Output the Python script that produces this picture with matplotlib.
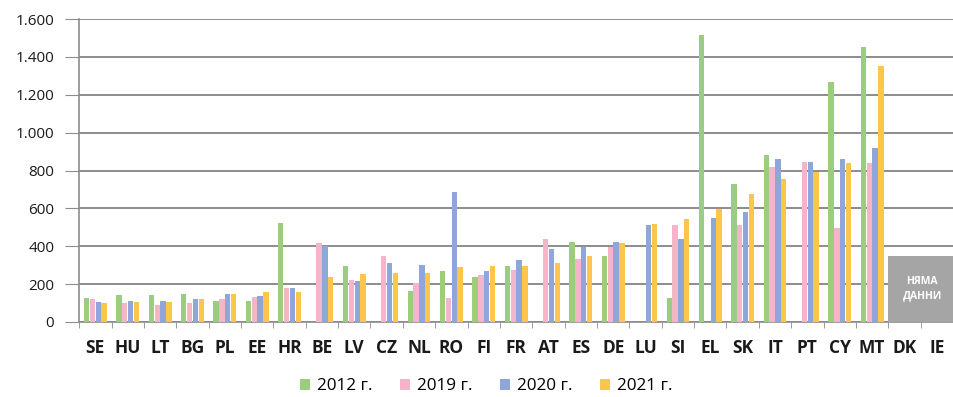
import numpy as np
import matplotlib
matplotlib.use("Agg")
import matplotlib.pyplot as plt

plt.rcParams['font.family'] = ['Open Sans', 'DejaVu Sans']

countries = ['SE', 'HU', 'LT', 'BG', 'PL', 'EE', 'HR', 'BE', 'LV', 'CZ', 'NL', 'RO', 'FI', 'FR',
             'AT', 'ES', 'DE', 'LU', 'SI', 'EL', 'SK', 'IT', 'PT', 'CY', 'MT', 'DK', 'IE']

# values, nan = no bar
nan = np.nan
v2012 = [125, 141, 143, 148, 113, 109, 521, nan, 298, nan, 161, 270, 240, 297,
         nan, 424, 350, nan, 125, 1517, 730, 883, nan, 1266, 1452, nan, nan]
v2019 = [121, 102, 92, 100, 123, 134, 181, 415, 222, 350, 208, 129, 249, 275,
         438, 334, 396, nan, 512, nan, 514, 816, 844, 494, 840, nan, nan]
v2020 = [104, 109, 113, 123, 148, 139, 178, 399, 215, 314, 302, 689, 270, 328,
         383, 397, 424, 512, 438, 547, 583, 861, 844, 861, 919, nan, nan]
v2021 = [99, 106, 106, 123, 148, 158, 160, 235, 252, 258, 258, 290, 293, 297,
         310, 346, 419, 519, 544, 595, 678, 754, 791, 840, 1354, nan, nan]

series = [('2012 г.', v2012, '#9ccc7e'),
          ('2019 г.', v2019, '#f4b4c9'),
          ('2020 г.', v2020, '#8ea7d8'),
          ('2021 г.', v2021, '#fcc748')]

fig = plt.figure(figsize=(9.54, 3.97), dpi=100)
ax = fig.add_axes([0.083, 0.189, 0.916, 0.763])

x = np.arange(len(countries))
w = 0.18
for i, (name, vals, col) in enumerate(series):
    ax.bar(x + (i - 1.5) * w, vals, width=w * 0.92, color=col, label=name, zorder=3)

# grey "no data" box over DK and IE
ax.bar(25.55, 350, width=2.1, color='#a5a5a5', zorder=4, clip_on=False)
ax.text(25.55, 175, 'НЯМА\nДАННИ', ha='center', va='center', color='white',
        fontsize=7.5, fontweight='bold', zorder=5, linespacing=1.4)

ax.set_xlim(-0.5, len(countries) - 0.5)
ax.set_ylim(0, 1600)
ax.set_yticks(range(0, 1601, 200))
ax.set_yticklabels([f'{t:,}'.replace(',', '.') for t in range(0, 1601, 200)], fontsize=11)
ax.yaxis.grid(True, color='#8c8c8c', linewidth=1.4, zorder=0)

ax.set_xticks(x)
ax.set_xticklabels(countries, fontsize=12.5, fontweight='bold', color='#1a1a1a')
ax.set_xticks(np.arange(-0.5, len(countries), 1), minor=True)
ax.tick_params(axis='x', which='major', length=0, pad=12)
ax.tick_params(axis='x', which='minor', length=4, color='#8c8c8c')
ax.tick_params(axis='y', length=10, color='#8c8c8c', pad=8, labelcolor='#1a1a1a')

for s in ['top', 'right']:
    ax.spines[s].set_visible(False)
for s in ['left', 'bottom']:
    ax.spines[s].set_color('#8c8c8c')
    ax.spines[s].set_linewidth(1.2)

ax.legend(loc='upper center', bbox_to_anchor=(0.466, -0.135), ncol=4, frameon=False,
          fontsize=12.3, handlelength=0.6, handleheight=0.6, handletextpad=0.4,
          columnspacing=1.6)

fig.savefig('out.png', dpi=100)
